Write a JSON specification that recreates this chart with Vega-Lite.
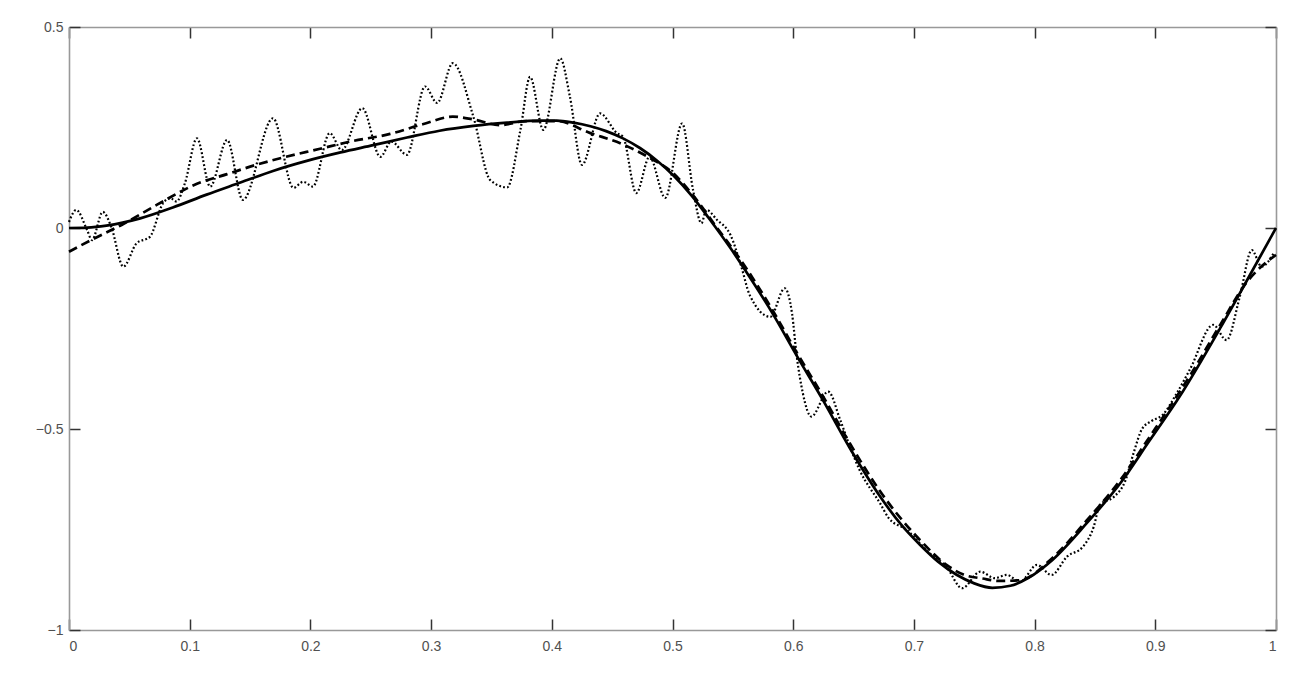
{
  "$schema": "https://vega.github.io/schema/vega-lite/v6.json",
  "width": 1207,
  "height": 603,
  "autosize": "none",
  "padding": {"left": 69, "top": 27, "right": 34, "bottom": 56},
  "background": "white",
  "config": {
    "view": {"stroke": null},
    "axis": {
      "grid": false,
      "domainColor": "#999999",
      "domainWidth": 1.6,
      "tickColor": "#333333",
      "tickWidth": 1.5,
      "tickSize": -11,
      "labelFont": "Liberation Sans",
      "labelFontSize": 14,
      "labelColor": "#505050",
      "title": null
    }
  },
  "datasets": {
    "solid": [
      {"x": 0, "y": 0}, {"x": 0.015, "y": 0.001}, {"x": 0.031, "y": 0.006}, {"x": 0.059, "y": 0.024},
      {"x": 0.086, "y": 0.051}, {"x": 0.114, "y": 0.083}, {"x": 0.142, "y": 0.113}, {"x": 0.169, "y": 0.142},
      {"x": 0.197, "y": 0.167}, {"x": 0.225, "y": 0.188}, {"x": 0.252, "y": 0.206}, {"x": 0.28, "y": 0.225},
      {"x": 0.307, "y": 0.242}, {"x": 0.335, "y": 0.254}, {"x": 0.363, "y": 0.262}, {"x": 0.39, "y": 0.267},
      {"x": 0.404, "y": 0.267}, {"x": 0.418, "y": 0.262}, {"x": 0.432, "y": 0.253}, {"x": 0.445, "y": 0.241},
      {"x": 0.459, "y": 0.223}, {"x": 0.473, "y": 0.199}, {"x": 0.487, "y": 0.168}, {"x": 0.501, "y": 0.13},
      {"x": 0.516, "y": 0.08}, {"x": 0.53, "y": 0.025}, {"x": 0.548, "y": -0.05}, {"x": 0.565, "y": -0.127},
      {"x": 0.583, "y": -0.213}, {"x": 0.603, "y": -0.318}, {"x": 0.625, "y": -0.43}, {"x": 0.647, "y": -0.548},
      {"x": 0.672, "y": -0.668}, {"x": 0.69, "y": -0.74}, {"x": 0.705, "y": -0.788}, {"x": 0.72, "y": -0.83},
      {"x": 0.735, "y": -0.862}, {"x": 0.75, "y": -0.884}, {"x": 0.765, "y": -0.895}, {"x": 0.78, "y": -0.89},
      {"x": 0.795, "y": -0.87}, {"x": 0.815, "y": -0.825}, {"x": 0.843, "y": -0.735}, {"x": 0.871, "y": -0.635},
      {"x": 0.895, "y": -0.53}, {"x": 0.92, "y": -0.42}, {"x": 0.954, "y": -0.248}, {"x": 0.976, "y": -0.13},
      {"x": 1, "y": 0}
    ],
    "dashed": [
      {"x": 0, "y": -0.059}, {"x": 0.017, "y": -0.032}, {"x": 0.045, "y": 0.01}, {"x": 0.073, "y": 0.058},
      {"x": 0.106, "y": 0.11}, {"x": 0.131, "y": 0.134}, {"x": 0.156, "y": 0.158}, {"x": 0.177, "y": 0.175},
      {"x": 0.208, "y": 0.197}, {"x": 0.233, "y": 0.215}, {"x": 0.266, "y": 0.234}, {"x": 0.293, "y": 0.258},
      {"x": 0.318, "y": 0.277}, {"x": 0.335, "y": 0.27}, {"x": 0.357, "y": 0.256}, {"x": 0.379, "y": 0.266},
      {"x": 0.404, "y": 0.266}, {"x": 0.432, "y": 0.236}, {"x": 0.459, "y": 0.208}, {"x": 0.479, "y": 0.178},
      {"x": 0.5, "y": 0.138}, {"x": 0.516, "y": 0.085}, {"x": 0.537, "y": 0.0}, {"x": 0.56, "y": -0.095},
      {"x": 0.583, "y": -0.205}, {"x": 0.603, "y": -0.31}, {"x": 0.625, "y": -0.42}, {"x": 0.647, "y": -0.536},
      {"x": 0.672, "y": -0.655}, {"x": 0.705, "y": -0.776}, {"x": 0.727, "y": -0.838}, {"x": 0.741, "y": -0.862},
      {"x": 0.757, "y": -0.872}, {"x": 0.771, "y": -0.878}, {"x": 0.788, "y": -0.876}, {"x": 0.815, "y": -0.82},
      {"x": 0.843, "y": -0.728}, {"x": 0.871, "y": -0.627}, {"x": 0.893, "y": -0.53}, {"x": 0.929, "y": -0.366},
      {"x": 0.954, "y": -0.24}, {"x": 0.976, "y": -0.134}, {"x": 0.985, "y": -0.104}, {"x": 1, "y": -0.067}
    ],
    "dotted": [
      {"x": 0, "y": 0.015}, {"x": 0.006, "y": 0.045}, {"x": 0.015, "y": -0.005}, {"x": 0.019, "y": -0.03},
      {"x": 0.028, "y": 0.04}, {"x": 0.035, "y": 0.003}, {"x": 0.045, "y": -0.096}, {"x": 0.056, "y": -0.038},
      {"x": 0.067, "y": -0.022}, {"x": 0.078, "y": 0.062}, {"x": 0.084, "y": 0.074}, {"x": 0.089, "y": 0.066},
      {"x": 0.096, "y": 0.111}, {"x": 0.106, "y": 0.223}, {"x": 0.117, "y": 0.103}, {"x": 0.131, "y": 0.219},
      {"x": 0.144, "y": 0.07}, {"x": 0.169, "y": 0.273}, {"x": 0.186, "y": 0.1}, {"x": 0.194, "y": 0.115},
      {"x": 0.202, "y": 0.103}, {"x": 0.216, "y": 0.236}, {"x": 0.226, "y": 0.194}, {"x": 0.243, "y": 0.298},
      {"x": 0.258, "y": 0.177}, {"x": 0.267, "y": 0.215}, {"x": 0.28, "y": 0.182}, {"x": 0.295, "y": 0.352},
      {"x": 0.305, "y": 0.311}, {"x": 0.318, "y": 0.41}, {"x": 0.335, "y": 0.277}, {"x": 0.349, "y": 0.119},
      {"x": 0.363, "y": 0.101}, {"x": 0.374, "y": 0.244}, {"x": 0.382, "y": 0.376}, {"x": 0.393, "y": 0.244},
      {"x": 0.407, "y": 0.422}, {"x": 0.415, "y": 0.327}, {"x": 0.425, "y": 0.157}, {"x": 0.44, "y": 0.285},
      {"x": 0.454, "y": 0.236}, {"x": 0.459, "y": 0.227}, {"x": 0.47, "y": 0.087}, {"x": 0.481, "y": 0.177},
      {"x": 0.494, "y": 0.075}, {"x": 0.508, "y": 0.26}, {"x": 0.517, "y": 0.095}, {"x": 0.524, "y": 0.012},
      {"x": 0.528, "y": 0.045}, {"x": 0.537, "y": 0.02}, {"x": 0.548, "y": -0.017}, {"x": 0.557, "y": -0.096},
      {"x": 0.564, "y": -0.167}, {"x": 0.581, "y": -0.221}, {"x": 0.593, "y": -0.15}, {"x": 0.599, "y": -0.212},
      {"x": 0.603, "y": -0.32}, {"x": 0.608, "y": -0.411}, {"x": 0.615, "y": -0.469}, {"x": 0.629, "y": -0.407},
      {"x": 0.639, "y": -0.478}, {"x": 0.647, "y": -0.544}, {"x": 0.655, "y": -0.602}, {"x": 0.672, "y": -0.685},
      {"x": 0.679, "y": -0.721}, {"x": 0.694, "y": -0.751}, {"x": 0.713, "y": -0.809}, {"x": 0.727, "y": -0.843},
      {"x": 0.74, "y": -0.896}, {"x": 0.755, "y": -0.855}, {"x": 0.767, "y": -0.871}, {"x": 0.777, "y": -0.863},
      {"x": 0.788, "y": -0.88}, {"x": 0.802, "y": -0.838}, {"x": 0.814, "y": -0.863}, {"x": 0.827, "y": -0.817},
      {"x": 0.84, "y": -0.793}, {"x": 0.849, "y": -0.743}, {"x": 0.854, "y": -0.689}, {"x": 0.866, "y": -0.668},
      {"x": 0.875, "y": -0.63}, {"x": 0.882, "y": -0.56}, {"x": 0.889, "y": -0.5}, {"x": 0.897, "y": -0.48},
      {"x": 0.906, "y": -0.465}, {"x": 0.918, "y": -0.41}, {"x": 0.929, "y": -0.35}, {"x": 0.948, "y": -0.241},
      {"x": 0.959, "y": -0.279}, {"x": 0.97, "y": -0.171}, {"x": 0.98, "y": -0.055}, {"x": 0.988, "y": -0.096},
      {"x": 0.998, "y": -0.063}
    ]
  },
  "layer": [
    {
      "data": {"name": "solid"},
      "mark": {"type": "line", "color": "black", "strokeWidth": 2.7, "interpolate": "monotone"},
      "encoding": {
        "x": {"field": "x", "type": "quantitative", "scale": {"domain": [0, 1], "nice": false},
          "axis": {"orient": "bottom", "values": [0, 0.1, 0.2, 0.3, 0.4, 0.5, 0.6, 0.7, 0.8, 0.9, 1], "labelPadding": 20, "format": "~g"}},
        "y": {"field": "y", "type": "quantitative", "scale": {"domain": [-1, 0.5], "nice": false},
          "axis": {"orient": "left", "values": [-1, -0.5, 0, 0.5], "labelPadding": 17, "format": "~g"}}
      }
    },
    {
      "data": {"name": "dashed"},
      "mark": {"type": "line", "color": "black", "strokeWidth": 2.7, "strokeDash": [9, 5], "interpolate": "monotone"},
      "encoding": {
        "x": {"field": "x", "type": "quantitative", "scale": {"domain": [0, 1], "nice": false},
          "axis": {"orient": "top", "values": [0, 0.1, 0.2, 0.3, 0.4, 0.5, 0.6, 0.7, 0.8, 0.9, 1], "labels": false}},
        "y": {"field": "y", "type": "quantitative", "scale": {"domain": [-1, 0.5], "nice": false},
          "axis": {"orient": "right", "values": [-1, -0.5, 0, 0.5], "labels": false}}
      }
    },
    {
      "data": {"name": "dotted"},
      "mark": {"type": "line", "color": "black", "strokeWidth": 2.2, "strokeDash": [1.8, 2.2], "interpolate": "monotone"},
      "encoding": {
        "x": {"field": "x", "type": "quantitative", "axis": null},
        "y": {"field": "y", "type": "quantitative", "axis": null}
      }
    }
  ],
  "resolve": {"axis": {"x": "independent", "y": "independent"}}
}
